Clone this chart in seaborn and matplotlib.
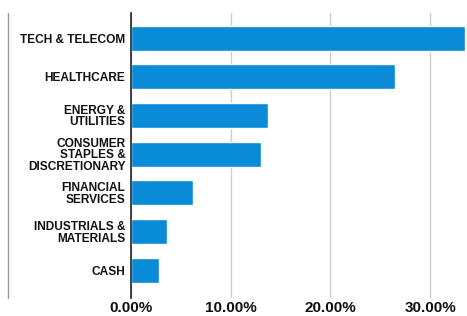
import pandas as pd
import seaborn as sns
import matplotlib.pyplot as plt
from matplotlib.lines import Line2D
from matplotlib.ticker import FuncFormatter

# sector allocation, in percent
sectors = ["TECH & TELECOM", "HEALTHCARE", "ENERGY &\nUTILITIES",
           "CONSUMER\nSTAPLES &\nDISCRETIONARY", "FINANCIAL\nSERVICES",
           "INDUSTRIALS &\nMATERIALS", "CASH"]
weights = [33.5, 26.5, 13.7, 13.0, 6.2, 3.6, 2.8]
x_ticks = [0, 10, 20, 30]

df = pd.DataFrame({"sector": sectors, "weight": weights})

sns.set_style("white")
plt.rcParams['font.family'] = ['Liberation Sans', 'DejaVu Sans']

fig = plt.figure(figsize=(4.67, 3.16), dpi=100)
ax = fig.add_axes([0.2805, 0.057, 0.7195, 0.902])

sns.barplot(data=df, x="weight", y="sector", orient="h", color="#0A8BD8",
            saturation=1, width=0.65, ax=ax)

ax.set_xlim(0, 33.7)
ax.set_ylim(6.72, -0.65)
ax.set_xticks(x_ticks)
ax.xaxis.set_major_formatter(FuncFormatter(lambda v, p: f"{v:.2f}%"))
ax.grid(axis="x", color="#cccccc", linewidth=1)
ax.set_axisbelow(True)
ax.set_xlabel("")
ax.set_ylabel("")

for s in ["top", "right", "bottom"]:
    ax.spines[s].set_visible(False)
ax.spines["left"].set_color("#222222")
ax.spines["left"].set_linewidth(1.2)

ax.tick_params(axis="y", length=0, pad=4, labelcolor="#111111")
ax.tick_params(axis="x", length=0, pad=2, labelcolor="#111111")
for lbl in ax.get_yticklabels():
    lbl.set_fontweight("bold")
    lbl.set_fontsize(8.6)
    lbl.set_linespacing(0.95)
for lbl in ax.get_xticklabels():
    lbl.set_fontweight("bold")
    lbl.set_fontsize(11)

# thin frame line on the far left
fig.add_artist(Line2D([8 / 467, 8 / 467], [1 - 298 / 316, 1 - 13 / 316],
                      color="#999999", linewidth=1))

fig.savefig("out.png", dpi=100)
